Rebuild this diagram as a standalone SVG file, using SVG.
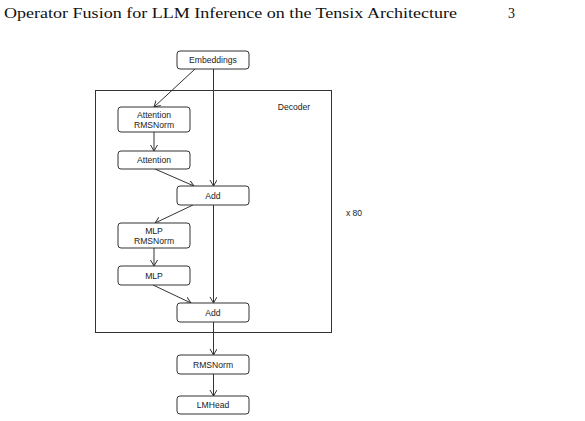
<svg xmlns="http://www.w3.org/2000/svg" width="585" height="421" viewBox="0 0 585 421">
<style>
.box{fill:#fff;stroke:#333;stroke-width:1}
.lbl{font-family:"Liberation Sans",Arial,sans-serif;font-size:8.6px;fill:#222;text-anchor:middle}
.edge{stroke:#333;stroke-width:1;fill:none}
.hdr{font-family:"Liberation Serif","Times New Roman",serif;font-size:14px;fill:#111}
</style>
<defs>
<marker id="ah" markerUnits="userSpaceOnUse" markerWidth="10" markerHeight="10" refX="6" refY="3.5" orient="auto">
<path d="M0,0 L6,3.5 L0,7" fill="none" stroke="#333" stroke-width="1"/>
</marker>
</defs>
<rect width="585" height="421" fill="#fff"/>
<text class="hdr" x="4" y="18" textLength="453" lengthAdjust="spacingAndGlyphs">Operator Fusion for LLM Inference on the Tensix Architecture</text>
<text class="hdr" x="508" y="18">3</text>
<g id="decoder">
<rect x="95.5" y="90.5" width="236" height="242" fill="none" stroke="#333" stroke-width="1"/>
<text class="lbl" x="294" y="110">Decoder</text>
</g>
<text class="lbl" x="354" y="216">x 80</text>
<g id="connectors">
<line class="edge" x1="195" y1="69" x2="154" y2="107" marker-end="url(#ah)"/>
<line class="edge" x1="213.5" y1="69" x2="213.5" y2="186" marker-end="url(#ah)"/>
<line class="edge" x1="154" y1="132" x2="154" y2="151" marker-end="url(#ah)"/>
<line class="edge" x1="155" y1="169" x2="194" y2="186" marker-end="url(#ah)"/>
<line class="edge" x1="193" y1="205" x2="155" y2="223" marker-end="url(#ah)"/>
<line class="edge" x1="213.5" y1="205" x2="213.5" y2="303" marker-end="url(#ah)"/>
<line class="edge" x1="154" y1="248" x2="154" y2="266" marker-end="url(#ah)"/>
<line class="edge" x1="153" y1="285" x2="191" y2="303" marker-end="url(#ah)"/>
<line class="edge" x1="213.5" y1="322" x2="213.5" y2="355" marker-end="url(#ah)"/>
<line class="edge" x1="213.5" y1="374" x2="213.5" y2="396" marker-end="url(#ah)"/>
</g>
<g id="embeddings"><rect class="box" x="177" y="51" width="72" height="18" rx="3"/><text class="lbl" x="213" y="63">Embeddings</text></g>
<g id="attn_norm"><rect class="box" x="118" y="107" width="72" height="25" rx="3"/><text class="lbl" x="154" y="118">Attention</text><text class="lbl" x="154" y="128">RMSNorm</text></g>
<g id="attention"><rect class="box" x="118" y="151" width="72" height="18" rx="3"/><text class="lbl" x="154" y="163">Attention</text></g>
<g id="add1"><rect class="box" x="177" y="186" width="72" height="19" rx="3"/><text class="lbl" x="213" y="198.5">Add</text></g>
<g id="mlp_norm"><rect class="box" x="118" y="223" width="72" height="25" rx="3"/><text class="lbl" x="154" y="234">MLP</text><text class="lbl" x="154" y="244">RMSNorm</text></g>
<g id="mlp"><rect class="box" x="118" y="266" width="72" height="19" rx="3"/><text class="lbl" x="154" y="278.5">MLP</text></g>
<g id="add2"><rect class="box" x="177" y="303" width="72" height="19" rx="3"/><text class="lbl" x="213" y="315.5">Add</text></g>
<g id="rmsnorm"><rect class="box" x="177" y="355" width="72" height="19" rx="3"/><text class="lbl" x="213" y="367.5">RMSNorm</text></g>
<g id="lmhead"><rect class="box" x="177" y="396" width="72" height="18" rx="3"/><text class="lbl" x="213" y="408">LMHead</text></g>
</svg>
